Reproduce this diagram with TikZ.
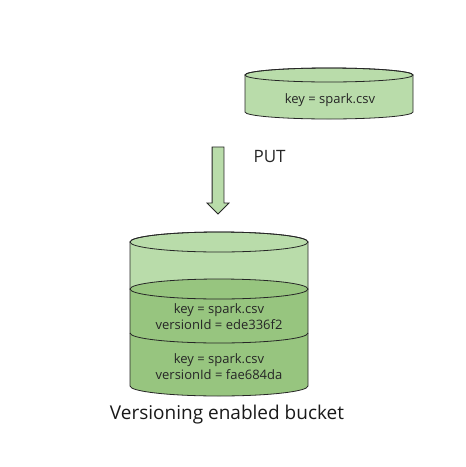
\documentclass[tikz,border=0pt]{standalone}
\usepackage{fontspec}
\setmainfont{Open Sans}
\usetikzlibrary{shapes.arrows}
\definecolor{lightgreen}{HTML}{B9DCAA}
\definecolor{darkgreen}{HTML}{97C57F}

\begin{document}
\begin{tikzpicture}[x=1pt,y=-1pt,thin,
      cylbody/.style={draw=black!85,line width=0.8pt},
      label text/.style={font=\fontsize{13}{16}\selectfont,text=black!85,align=center},
      put arrow/.style={single arrow,draw=black!85,fill=lightgreen,line width=0.8pt,
        minimum height=67pt,minimum width=21pt,inner sep=5.5pt,
        single arrow head extend=5pt,shape border rotate=270}]
  \useasboundingbox (0,0) rectangle (466,467);

  % single object on the right
  \path[cylbody,fill=lightgreen] (245,75) -- (245,112)
    arc[start angle=180,end angle=360,x radius=84pt,y radius=7pt] -- (413,75)
    arc[start angle=0,end angle=180,x radius=84pt,y radius=7pt] -- cycle;
  \draw[cylbody] (329,75) ellipse[x radius=84pt,y radius=7pt];
  \node[label text] (newobj) at (330,100) {key = spark.csv};

  % upload
  \node[put arrow] (put) at (218,177.5) {};
  \node[font=\fontsize{17}{20}\selectfont,text=black!85,anchor=west] (putlabel) at (250,157) {PUT};

  % the bucket
  \path[cylbody,fill=lightgreen] (130,242) -- (130,289)
    -- (308,289) -- (308,242)
    arc[start angle=0,end angle=180,x radius=89pt,y radius=10pt] -- cycle;
  \draw[cylbody] (219,242) ellipse[x radius=89pt,y radius=10pt];
  \path[cylbody,fill=darkgreen] (130,289) -- (130,386)
    arc[start angle=180,end angle=360,x radius=89pt,y radius=10pt] -- (308,289)
    arc[start angle=0,end angle=180,x radius=89pt,y radius=10pt] -- cycle;
  \draw[cylbody] (130,289) arc[start angle=180,end angle=360,x radius=89pt,y radius=10pt];
  \draw[cylbody] (130,333) arc[start angle=180,end angle=360,x radius=89pt,y radius=10pt];
  \node[label text] (version1) at (219,317) {key = spark.csv\\versionId = ede336f2};
  \node[label text] (version2) at (219,367) {key = spark.csv\\versionId = fae684da};
  \node[font=\fontsize{19}{22}\selectfont,text=black!90] (bucket) at (227,415) {Versioning enabled bucket};
\end{tikzpicture}
\end{document}
